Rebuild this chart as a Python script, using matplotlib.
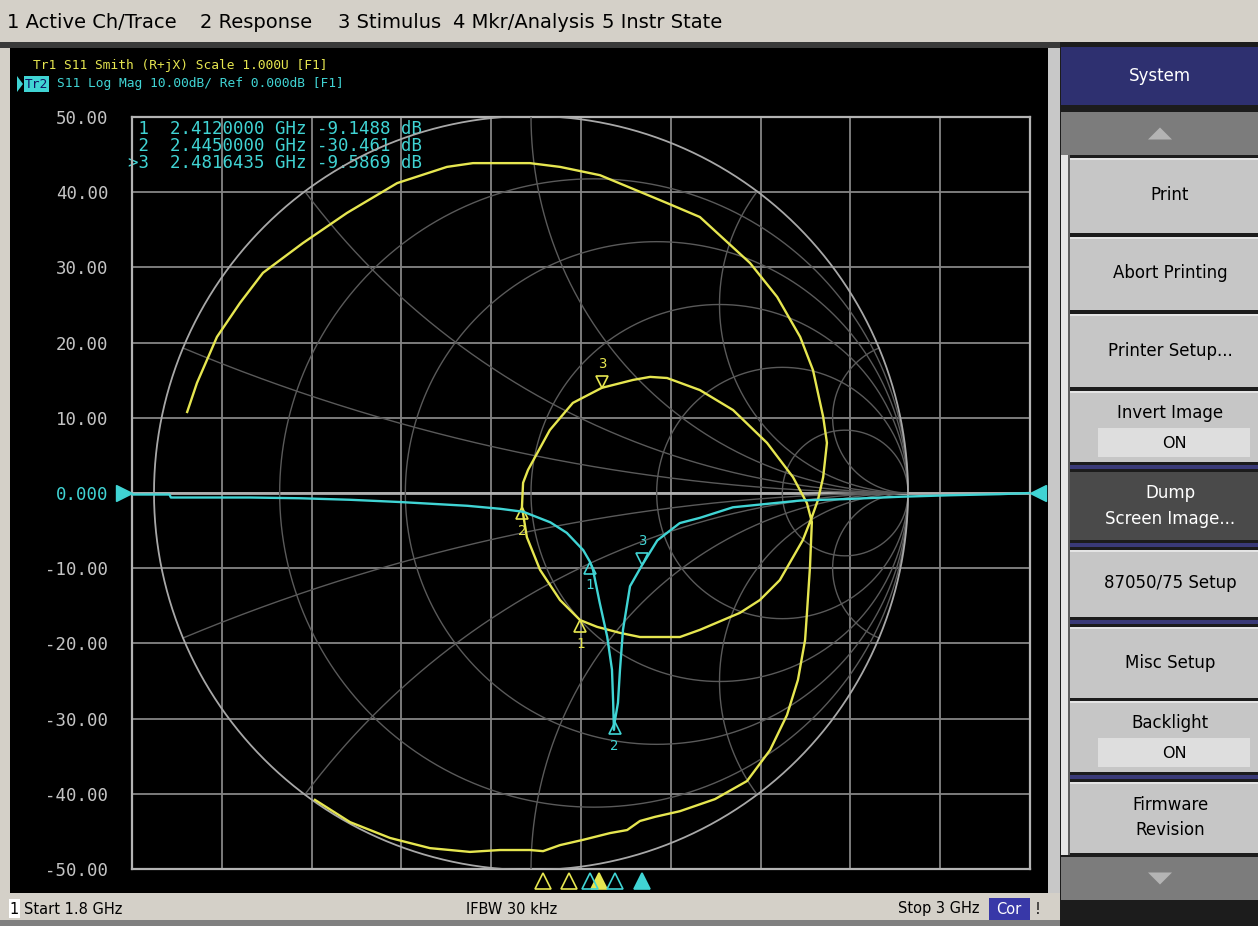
import matplotlib
matplotlib.use("Agg")
import matplotlib.pyplot as plt
from matplotlib.patches import Rectangle, Polygon
from matplotlib import transforms
import numpy as np

W, H = 1258, 926
YELLOW = "#e6e650"
CYAN = "#40d4d4"
GRID = "#858585"
SMITH = "#5a5a5a"
MONO = "DejaVu Sans Mono"
SANS = "DejaVu Sans"

# Tr2 : S11 log mag (GHz, dB)
tr2_freq = [1.800, 1.850, 1.852, 1.958, 2.025, 2.091, 2.158, 2.248, 2.292, 2.323,
            2.359, 2.381, 2.403, 2.412, 2.416, 2.425, 2.435, 2.4414, 2.4430, 2.4440,
            2.4450, 2.4494, 2.4521, 2.4561, 2.4655, 2.4816, 2.502, 2.532, 2.559,
            2.603, 2.693, 2.756, 2.826, 2.893, 2.960, 3.000]
tr2_db = [-0.2, -0.2, -0.6, -0.6, -0.7, -0.9, -1.2, -1.7, -2.1, -2.5,
          -3.9, -5.3, -7.6, -9.15, -10.2, -14.6, -19.1, -23.5, -27.9, -31.5,
          -30.46, -27.9, -23.5, -18.2, -12.4, -9.59, -6.3, -4.0, -3.3,
          -1.9, -1.0, -0.8, -0.5, -0.3, -0.15, 0.0]

# Tr1 : S11 on the Smith chart (real, imag of reflection coefficient)
tr1_re = [-0.912, -0.886, -0.833, -0.772, -0.711, -0.605, -0.488, -0.355, -0.223, -0.154,
          -0.003, 0.077, 0.183, 0.361, 0.448, 0.581, 0.653, 0.714, 0.748, 0.775,
          0.785, 0.775, 0.761, 0.745, 0.721, 0.660, 0.607, 0.554, 0.448, 0.395,
          0.289, 0.236, 0.175, 0.130, 0.077, 0.024, -0.011, -0.024, -0.021, -0.008,
          0.050, 0.111, 0.188, 0.271, 0.316, 0.361, 0.448, 0.536, 0.626, 0.695,
          0.732, 0.745, 0.740, 0.732, 0.727, 0.708, 0.679, 0.634, 0.573, 0.488,
          0.395, 0.329, 0.289, 0.255, 0.210, 0.138, 0.077, 0.032, -0.003, -0.082,
          -0.162, -0.268, -0.374, -0.480, -0.573]
tr1_im = [0.215, 0.292, 0.414, 0.504, 0.584, 0.663, 0.743, 0.822, 0.865, 0.875,
          0.875, 0.865, 0.843, 0.769, 0.732, 0.610, 0.520, 0.414, 0.326, 0.202,
          0.133, 0.042, -0.019, -0.064, -0.125, -0.231, -0.284, -0.318, -0.363, -0.382,
          -0.382, -0.371, -0.355, -0.337, -0.284, -0.204, -0.117, -0.037, 0.027, 0.061,
          0.167, 0.239, 0.279, 0.300, 0.308, 0.305, 0.273, 0.220, 0.133, 0.042,
          -0.027, -0.077, -0.196, -0.318, -0.390, -0.496, -0.589, -0.682, -0.764, -0.812,
          -0.844, -0.859, -0.870, -0.894, -0.902, -0.920, -0.934, -0.950, -0.947, -0.947,
          -0.952, -0.942, -0.915, -0.873, -0.814]

mk_freq = [2.412, 2.445, 2.4816435]
mk_db = [-9.1488, -30.461, -9.5869]
mk_re = [0.130, -0.024, 0.188]
mk_im = [-0.337, -0.037, 0.279]
mk_freq_tr1 = [2.349, 2.384, 2.424]

y_ticks = [50, 40, 30, 20, 10, 0, -10, -20, -30, -40, -50]
y_labels = ["50.00", "40.00", "30.00", "20.00", "10.00", "0.000",
            "-10.00", "-20.00", "-30.00", "-40.00", "-50.00"]
readout = [" 1  2.4120000 GHz -9.1488 dB",
           " 2  2.4450000 GHz -30.461 dB",
           ">3  2.4816435 GHz -9.5869 dB"]
menu_items = ["1 Active Ch/Trace", "2 Response", "3 Stimulus", "4 Mkr/Analysis", "5 Instr State"]
menu_x = [7, 200, 338, 453, 602]

fig = plt.figure(figsize=(W / 100, H / 100), dpi=100)
bg = fig.add_axes([0, 0, 1, 1], zorder=0)
bg.set_xlim(0, W)
bg.set_ylim(H, 0)
bg.axis("off")


def box(x0, y0, x1, y1, color, **kw):
    bg.add_patch(Rectangle((x0, y0), x1 - x0, y1 - y0, facecolor=color, edgecolor="none", **kw))


# window chrome
box(0, 0, W, H, "#d4d0c8")
box(0, 42, 1060, 48, "#3a3a3a")
box(10, 48, 1048, 893, "black")
box(1048, 48, 1060, 893, "#c8c8c8")
box(0, 893, 1060, 926, "#d4d0c8")
box(0, 920, 1060, 926, "#808080")
for t, x in zip(menu_items, menu_x):
    bg.text(x, 22, t, fontsize=14, family=SANS, va="center", color="black")

# status bar
box(9, 899, 20, 918, "white")
bg.text(14, 909, "1", fontsize=10.5, ha="center", va="center", family=SANS)
bg.text(24, 909, "Start 1.8 GHz", fontsize=10.5, va="center", family=SANS)
bg.text(512, 909, "IFBW 30 kHz", fontsize=10.5, ha="center", va="center", family=SANS)
bg.text(980, 909, "Stop 3 GHz", fontsize=10.5, ha="right", va="center", family=SANS)
box(989, 898, 1030, 920, "#3838a8")
bg.text(1009, 909, "Cor", fontsize=10.5, ha="center", va="center", color="white", family=SANS)
bg.text(1038, 909, "!", fontsize=10.5, ha="center", va="center", family=SANS)

# soft key panel
box(1060, 42, W, H, "#1c1c1c")
keys = [("System", 47, 105, "title"), ("", 112, 155, "up"),
        ("Print", 158, 233, "key"), ("Abort Printing", 237, 310, "key"),
        ("Printer Setup...", 314, 387, "key"), ("Invert Image", 391, 462, "toggle"),
        ("Dump\nScreen Image...", 472, 540, "dark"), ("87050/75 Setup", 550, 617, "key"),
        ("Misc Setup", 627, 698, "key"), ("Backlight", 701, 772, "toggle"),
        ("Firmware\nRevision", 782, 853, "key"), ("", 857, 900, "down")]
for (y0, y1) in [(463, 471), (541, 549), (618, 626), (773, 781)]:
    box(1070, y0 + 2, W, y1 - 2, "#3a3a78")
box(1061, 155, 1069, 855, "#e6e6e6")
box(1068, 155, 1070, 855, "#606060")
for label, y0, y1, kind in keys:
    if kind == "title":
        box(1061, y0, W, y1, "#2e3070")
        bg.text(1160, (y0 + y1) / 2, label, fontsize=12, ha="center", va="center", color="white", family=SANS)
    elif kind in ("up", "down"):
        box(1061, y0, W, y1, "#7c7c7c")
        cy = (y0 + y1) / 2
        s = 1 if kind == "up" else -1
        bg.add_patch(Polygon([(1148, cy + 6 * s), (1172, cy + 6 * s), (1160, cy - 6 * s)],
                             facecolor="#b4b4b4", edgecolor="none"))
    elif kind == "dark":
        box(1070, y0, W, y1, "#4a4a4a")
        bg.text(1170, (y0 + y1) / 2, label, fontsize=12, ha="center", va="center", color="white",
                family=SANS, linespacing=1.5)
    else:
        box(1070, y0, W, y1, "#c6c6c6")
        box(1070, y0, W, y0 + 2, "#e4e4e4")
        if kind == "toggle":
            bg.text(1170, y0 + 22, label, fontsize=12, ha="center", va="center", family=SANS)
            box(1098, y0 + 37, 1250, y0 + 66, "#dedede")
            bg.text(1174, y0 + 52, "ON", fontsize=11.5, ha="center", va="center", family=SANS)
        else:
            bg.text(1170, (y0 + y1) / 2, label, fontsize=12, ha="center", va="center",
                    family=SANS, linespacing=1.5)

# header lines
bg.text(33, 65, "Tr1 S11 Smith (R+jX) Scale 1.000U [F1]", fontsize=9.3, family=MONO,
        color=YELLOW, va="center")
bg.add_patch(Polygon([(17, 76), (17, 92), (23, 84)], facecolor=CYAN, edgecolor="none"))
bg.text(25, 84, "Tr2", fontsize=9.3, family=MONO, color="#101060", va="center",
        bbox=dict(boxstyle="square,pad=0.08", facecolor=CYAN, edgecolor="none"))
bg.text(57, 84, "S11 Log Mag 10.00dB/ Ref 0.000dB [F1]", fontsize=9.3, family=MONO,
        color=CYAN, va="center")

# plot area geometry (pixels)
L, R, T, B = 132, 1030, 117, 869
pos = [L / W, 1 - B / H, (R - L) / W, (B - T) / H]
cx, cy, rad = 531, 493, 377

# rectangular grid
ax = fig.add_axes(pos, zorder=1)
ax.set_facecolor("none")
ax.set_xlim(1.8, 3.0)
ax.set_ylim(-50, 50)
for f in np.linspace(1.8, 3.0, 11)[1:-1]:
    ax.axvline(f, color=GRID, lw=1.3)
for v in y_ticks[1:-1]:
    ax.axhline(v, color=GRID, lw=1.3)
ax.axhline(0, color="#b0b0b0", lw=2)
for s in ax.spines.values():
    s.set_color("#b4b4b4")
    s.set_linewidth(1.6)
ax.set_xticks([])
ax.set_yticks(y_ticks)
ax.set_yticklabels(y_labels, family=MONO, fontsize=12.5)
for lab, t in zip(ax.get_yticklabels(), y_labels):
    lab.set_color(CYAN if t == "0.000" else "#c4c4c4")
ax.tick_params(axis="y", length=0, pad=17)

# Smith chart
sax = fig.add_axes(pos, zorder=2)
sax.set_facecolor("none")
sax.set_xlim((L - cx) / rad, (R - cx) / rad)
sax.set_ylim((cy - B) / rad, (cy - T) / rad)
sax.axis("off")
th = np.linspace(0, 2 * np.pi, 721)
for r in [0.2, 0.5, 1, 2, 5]:
    c = r / (1 + r)
    sax.plot(c + np.cos(th) / (1 + r), np.sin(th) / (1 + r), color=SMITH, lw=1)
rr = np.concatenate([np.linspace(0, 1, 200), np.logspace(0, 3.5, 300)])
for xv in [0.2, 0.5, 1, 2, 5]:
    for sg in (1, -1):
        g = (rr + 1j * xv * sg - 1) / (rr + 1j * xv * sg + 1)
        sax.plot(g.real, g.imag, color=SMITH, lw=1)
sax.plot(np.cos(th), np.sin(th), color="#a8a8a8", lw=1.3)
sax.plot(tr1_re, tr1_im, color=YELLOW, lw=1.7)

# log mag trace
ax2 = fig.add_axes(pos, zorder=3)
ax2.set_facecolor("none")
ax2.set_xlim(1.8, 3.0)
ax2.set_ylim(-50, 50)
ax2.axis("off")
ax2.plot(tr2_freq, tr2_db, color=CYAN, lw=1.7)


def marker(axis, xs, ys, sym, color, filled=False, ms=9, dy=0.0):
    off = -ms / 2 if sym == "^" else ms / 2
    tr = transforms.offset_copy(axis.transData, fig=fig, y=off + dy, units="points")
    axis.plot(xs, ys, ls="none", marker=sym, ms=ms, mew=1.2, mec=color,
              mfc=color if filled else "none", transform=tr, clip_on=False)


def mlabel(axis, x, y, txt, color, below):
    axis.annotate(txt, (x, y), xytext=(0, -17 if below else 17), textcoords="offset points",
                  ha="center", va="center", color=color, family=MONO, fontsize=10)


for i, (f, d) in enumerate(zip(mk_freq, mk_db)):
    sym = "v" if i == 2 else "^"
    marker(ax2, [f], [d], sym, CYAN)
    mlabel(ax2, f, d, str(i + 1), CYAN, sym == "^")
for i, (a, b) in enumerate(zip(mk_re, mk_im)):
    sym = "v" if i == 2 else "^"
    marker(sax, [a], [b], sym, YELLOW)
    mlabel(sax, a, b, str(i + 1), YELLOW, sym == "^")

# marker position indicators below the grid
for i, f in enumerate(mk_freq_tr1):
    marker(ax2, [f], [-50], "^", YELLOW, filled=(i == 2), ms=11, dy=-3)
for i, f in enumerate(mk_freq):
    marker(ax2, [f], [-50], "^", CYAN, filled=(i == 2), ms=11, dy=-3)

# reference level arrows
tl = transforms.offset_copy(ax2.transData, fig=fig, x=-6, units="points")
tr_ = transforms.offset_copy(ax2.transData, fig=fig, x=6, units="points")
ax2.plot([1.8], [0], marker=">", ms=11, color=CYAN, transform=tl, clip_on=False)
ax2.plot([3.0], [0], marker="<", ms=11, color=CYAN, transform=tr_, clip_on=False)

# marker readout
for k, line in enumerate(readout):
    bg.text(128, 129 + 17 * k, line, fontsize=12.5, family=MONO, color=CYAN, va="center")

fig.savefig("out.png", dpi=100, facecolor="#d4d0c8")
